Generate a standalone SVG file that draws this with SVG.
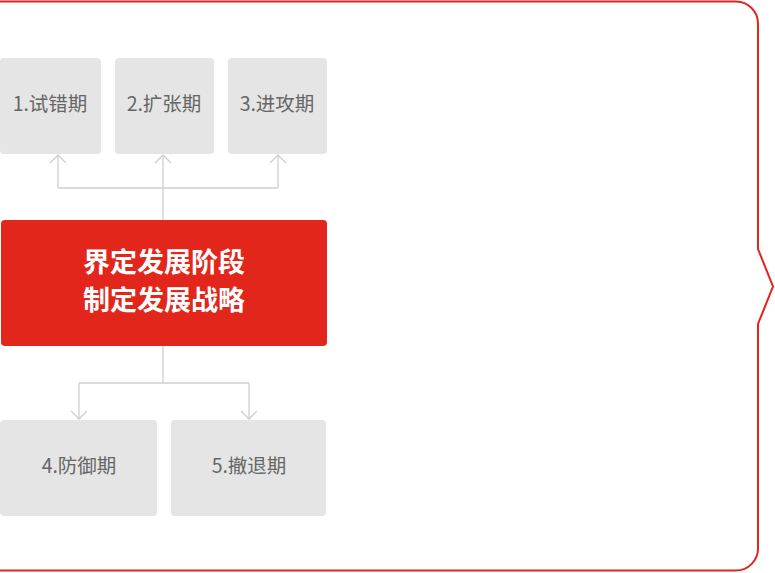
<svg xmlns="http://www.w3.org/2000/svg" width="775" height="573" viewBox="0 0 775 573">
<style>
.box{fill:#e5e5e5}
.lbl{font-family:"Noto Sans CJK SC","Liberation Sans",sans-serif;font-size:19.5px;fill:#666;text-anchor:middle}
.main{font-family:"Noto Sans CJK SC","Liberation Sans",sans-serif;font-size:27px;font-weight:bold;fill:#fff;text-anchor:middle}
.conn{fill:none;stroke:#cfcfcf;stroke-width:1.3}
</style>
<path id="bracket" d="M0,1.5 H736 A22,22 0 0 1 758,23.5 V249 L773,286.5 L758,324 V548 A22,22 0 0 1 736,570.5 H0" fill="none" stroke="#e2261b" stroke-width="2"/>
<g id="connectors">
<path class="conn" d="M163,220 V188 M58,188 H278 M58,188 V155 M163,188 V155 M278,188 V155"/>
<path class="conn" d="M50,163 L58,155 L66,163 M155,163 L163,155 L171,163 M270,163 L278,155 L286,163"/>
<path class="conn" d="M163,345 V383 M79,383 H249 M79,383 V419 M249,383 V419"/>
<path class="conn" d="M71,411 L79,419 L87,411 M241,411 L249,419 L257,411"/>
</g>
<g id="n1"><rect class="box" x="0" y="58" width="101" height="96" rx="4"/><text class="lbl" x="50" y="111">1.试错期</text></g>
<g id="n2"><rect class="box" x="115" y="58" width="99" height="96" rx="4"/><text class="lbl" x="164" y="111">2.扩张期</text></g>
<g id="n3"><rect class="box" x="228" y="58" width="99" height="96" rx="4"/><text class="lbl" x="277" y="111">3.进攻期</text></g>
<g id="center"><rect x="1" y="220" width="326" height="126" rx="4" fill="#e2261b"/><text class="main" x="164" y="272">界定发展阶段</text><text class="main" x="164" y="310">制定发展战略</text></g>
<g id="n4"><rect class="box" x="0" y="420" width="157" height="96" rx="4"/><text class="lbl" x="79" y="473">4.防御期</text></g>
<g id="n5"><rect class="box" x="171" y="420" width="155" height="96" rx="4"/><text class="lbl" x="249" y="473">5.撤退期</text></g>
</svg>
